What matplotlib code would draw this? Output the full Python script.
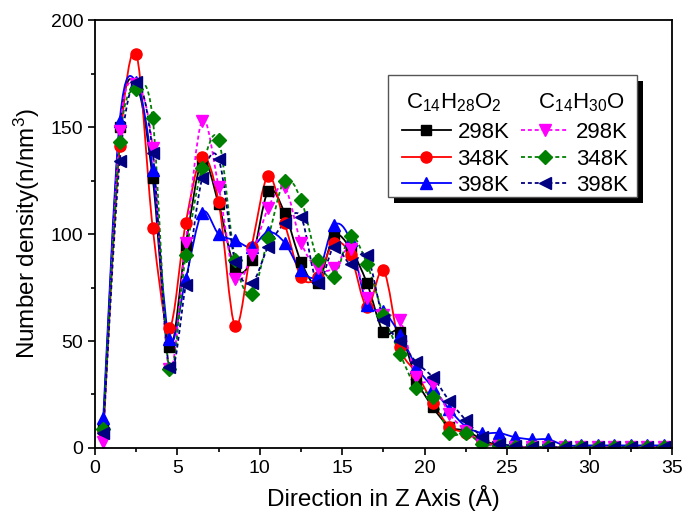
import matplotlib
matplotlib.use("Agg")
import matplotlib.pyplot as plt
from matplotlib.path import Path
from matplotlib.patches import PathPatch, Rectangle
from matplotlib.lines import Line2D
from matplotlib.ticker import MultipleLocator
from matplotlib.transforms import IdentityTransform

plt.rcParams['font.family'] = ['Liberation Sans', 'DejaVu Sans']
plt.rcParams['mathtext.fontset'] = 'custom'
plt.rcParams['mathtext.rm'] = 'Liberation Sans'
plt.rcParams['mathtext.it'] = 'Liberation Sans:italic'

# Z position of each bin (A)
z = [0.5, 1.5, 2.5, 3.5, 4.5, 5.5, 6.5, 7.5, 8.5, 9.5, 10.5, 11.5,
     12.5, 13.5, 14.5, 15.5, 16.5, 17.5, 18.5, 19.5, 20.5, 21.5, 22.5,
     23.5, 24.5, 25.5, 26.5, 27.5, 28.5, 29.5, 30.5, 31.5, 32.5, 33.5, 34.5]

tail = [0.3] * 9

# C14H28O2
acid_298 = [10, 150, 170, 126, 47, 95, 134, 114, 84, 88, 120, 110, 87, 77, 99,
            93, 77, 54, 54, 32, 19, 10, 8, 4, 1, 0.5] + tail
acid_348 = [8, 141, 184, 103, 56, 105, 136, 115, 57, 94, 127, 105, 80, 80, 96,
            90, 66, 83, 47, 35, 21, 10, 7, 3, 1, 0.5] + tail
acid_398 = [14, 153, 171, 130, 51, 79, 110, 100, 97, 94, 101, 96, 83, 81, 104,
            97, 67, 64, 53, 38, 28, 18, 10, 7, 7, 5, 4, 4,
            1.2, 1.2, 1.2, 1.2, 1.2, 1.2, 1.2]

# C14H30O
alc_298 = [3, 148, 170, 140, 37, 96, 153, 122, 79, 90, 112, 122, 96, 84, 84,
           93, 70, 62, 60, 33, 30, 16, 8, 2, 1, 0.5] + tail
alc_348 = [9, 143, 168, 154, 37, 90, 131, 144, 88, 72, 98, 125, 116, 88, 80,
           99, 86, 62, 44, 28, 24, 7, 7, 2, 1, 0.5] + tail
alc_398 = [7, 134, 171, 138, 38, 76, 126, 135, 87, 77, 94, 105, 108, 77, 94,
           86, 90, 60, 50, 40, 33, 22, 13, 5, 2, 1] + tail


def spline_path(x, y):
    # catmull-rom -> bezier, like origin's spline connection
    n = len(x)
    verts = [(x[0], y[0])]
    codes = [Path.MOVETO]
    for i in range(n - 1):
        i0 = max(i - 1, 0)
        i3 = min(i + 2, n - 1)
        c1 = (x[i] + (x[i + 1] - x[i0]) / 6, y[i] + (y[i + 1] - y[i0]) / 6)
        c2 = (x[i + 1] - (x[i3] - x[i]) / 6, y[i + 1] - (y[i3] - y[i]) / 6)
        verts += [c1, c2, (x[i + 1], y[i + 1])]
        codes += [Path.CURVE4] * 3
    return Path(verts, codes)


dash = (0, (2.2, 1.6))
series = [
    (acid_298, 'black', 's', '-', 7),
    (acid_348, 'red', 'o', '-', 8),
    (acid_398, 'blue', '^', '-', 8),
    (alc_298, 'magenta', 'v', dash, 8),
    (alc_348, 'green', 'D', dash, 7),
    (alc_398, 'navy', '<', dash, 8),
]

fig = plt.figure(figsize=(6.85, 5.17), dpi=100)
ax = fig.add_axes([0.1387, 0.1335, 0.8423, 0.8277])

handles = []
for vals, col, mk, ls, ms in series:
    ax.add_patch(PathPatch(spline_path(z, vals), fill=False, edgecolor=col,
                           linestyle=ls, linewidth=1.3))
    ax.plot(z, vals, linestyle='none', marker=mk, color=col, markersize=ms)
    handles.append(Line2D([], [], color=col, linestyle=ls, linewidth=1.3,
                          marker=mk, markersize=ms))

ax.set_xlim(0, 35)
ax.set_ylim(0, 200)
ax.xaxis.set_major_locator(MultipleLocator(5))
ax.xaxis.set_minor_locator(MultipleLocator(2.5))
ax.yaxis.set_major_locator(MultipleLocator(50))
ax.yaxis.set_minor_locator(MultipleLocator(25))
ax.tick_params(which='both', direction='out', top=False, right=False,
               labelsize=14, width=1.2)
ax.tick_params(which='major', length=5)
ax.tick_params(which='minor', length=3)
for sp in ax.spines.values():
    sp.set_linewidth(1.3)

ax.set_xlabel('Direction in Z Axis (\u00c5)', fontsize=17.5, labelpad=6)
ax.set_ylabel('Number density(n/nm$^3$)', fontsize=17.5, labelpad=6)

labels = ['298K', '348K', '398K', '298K', '348K', '398K']
leg = ax.legend(handles, labels, ncol=2, loc='upper right',
                bbox_to_anchor=(0.924, 0.834), borderaxespad=0, fontsize=16,
                title='C$_{14}$H$_{28}$O$_2$      C$_{14}$H$_{30}$O',
                title_fontsize=16, handlelength=2.2, handletextpad=0.3,
                columnspacing=0.5, labelspacing=0.25, borderpad=0,
                frameon=False)
leg._legend_box.sep = 6
leg.set_zorder(6)

# box + solid black drop shadow (origin style), padded around the legend
fig.canvas.draw()
bb = leg.get_window_extent()
fx0, fx1 = bb.x0 - 14, bb.x1 + 9
fy0, fy1 = bb.y0 - 1, bb.y1 + 16
shadow = Rectangle((fx0 + 6, fy0 - 6), fx1 - fx0, fy1 - fy0,
                   transform=IdentityTransform(), facecolor='black',
                   edgecolor='none', zorder=5.8)
frame = Rectangle((fx0, fy0), fx1 - fx0, fy1 - fy0,
                  transform=IdentityTransform(), facecolor='white',
                  edgecolor='#555555', linewidth=1.0, zorder=5.9)
ax.add_artist(shadow)
ax.add_artist(frame)

fig.savefig('out.png', dpi=100)
